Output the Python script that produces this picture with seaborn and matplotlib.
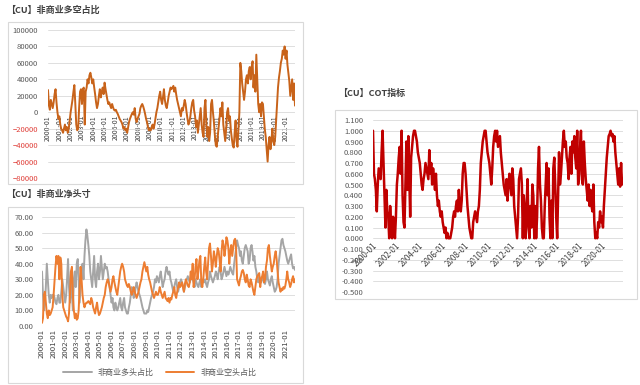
import pandas as pd
import seaborn as sns
import matplotlib.pyplot as plt
import matplotlib.dates as mdates
from matplotlib.patches import Rectangle
from matplotlib.ticker import FuncFormatter

sns.set_theme(style="white")
plt.rcParams["font.family"] = ["Noto Sans CJK SC", "DejaVu Sans"]

# 非商业净多头 (合约数), 月度, 2000-01 ~ 2021-11
net_position = [
    27000, 8000, 3000, 15000, 10000, 5000, 12000, 22000, 28000, 12000, 0, -8000,
    -5000, -15000, -20000, -22000, -25000, -20000, -15000, -22000, -18000, -25000, -20000, -10000,
    0, 8000, 15000, 25000, 33000, 10000, -15000, -22000, -20000, 5000, 25000, 28000,
    10000, 28000, 30000, -15000, 25000, 30000, 40000, 35000, 45000, 48000, 42000, 35000,
    40000, 30000, 22000, 12000, 5000, 10000, 20000, 28000, 18000, 25000, 30000, 22000,
    36000, 28000, 22000, 15000, 10000, 12000, 8000, 5000, 10000, 6000, 3000, 2000,
    3000, 0, -2000, -5000, -8000, -10000, -12000, -15000, -20000, -18000, -22000, -20000,
    -25000, -18000, -12000, -8000, -5000, -2000, 0, -3000, 5000, -8000, -12000, -8000,
    -5000, -2000, 5000, 8000, 10000, 7000, 3000, -2000, -8000, -12000, -18000, -22000,
    -20000, -22000, -18000, -15000, -20000, -15000, -8000, 0, 5000, 12000, 20000, 25000,
    15000, 10000, 18000, 28000, 15000, 8000, 5000, 12000, 20000, 25000, 30000, 28000,
    30000, 32000, 25000, 30000, 22000, 15000, 10000, 5000, 0, -5000, 5000, 2000,
    8000, 15000, 10000, 0, -8000, -15000, -12000, -5000, 5000, 12000, 15000, 2000,
    -5000, -18000, -10000, -25000, -15000, -5000, 5000, -15000, -25000, -30000, 5000, 15000,
    -15000, -30000, -18000, -35000, -25000, 10000, 15000, 0, -12000, -28000, -40000, -42000,
    -30000, -18000, -8000, 5000, -5000, 12000, -15000, -25000, -35000, -20000, 0, 5000,
    -10000, -5000, -22000, -32000, -40000, -43000, -25000, -10000, -35000, -42000, -20000, 0,
    60000, 50000, 35000, 25000, 15000, 25000, 40000, 45000, 35000, 50000, 55000, 40000,
    55000, 62000, 30000, 45000, 25000, 70000, 40000, 10000, 0, 10000, -5000, 12000,
    10000, -5000, -20000, -30000, -45000, -60000, -40000, -30000, -45000, -35000, -20000, -35000,
    -40000, -30000, -10000, 10000, 30000, 42000, 50000, 60000, 65000, 75000, 70000, 80000,
    65000, 75000, 58000, 48000, 38000, 20000, 30000, 40000, 15000, 35000, 8000,
]

# 非商业多头占比 (%)
long_share = [
    35, 20, 10, 15, 25, 40, 30, 20, 15, 20, 18, 20,
    20, 18, 15, 14, 18, 20, 15, 15, 22, 30, 25, 20,
    15, 20, 30, 43, 25, 15, 35, 20, 10, 30, 35, 25,
    40, 43, 30, 15, 25, 35, 40, 30, 45, 55, 62, 58,
    52, 45, 35, 30, 25, 35, 45, 30, 25, 35, 40, 30,
    35, 45, 38, 30, 35, 40, 37, 38, 35, 30, 25, 20,
    15, 18, 12, 10, 15, 12, 10, 12, 15, 18, 12, 10,
    15, 18, 12, 10, 8, 8, 12, 15, 20, 25, 22, 18,
    20, 25, 28, 25, 22, 20, 18, 15, 12, 10, 8, 8,
    8, 10, 9, 12, 15, 18, 20, 22, 25, 30, 28, 32,
    30, 28, 32, 35, 30, 25, 28, 30, 35, 38, 35, 33,
    35, 30, 28, 25, 22, 25, 28, 30, 25, 22, 25, 28,
    30, 28, 25, 22, 25, 28, 30, 32, 30, 28, 30, 32,
    30, 28, 25, 30, 28, 26, 25, 28, 30, 25, 28, 30,
    28, 30, 27, 25, 28, 30, 35, 32, 30, 28, 30, 32,
    35, 33, 30, 35, 38, 35, 30, 32, 35, 38, 35, 32,
    35, 33, 35, 38, 36, 34, 33, 40, 45, 50, 55, 52,
    50, 45, 48, 42, 40, 45, 50, 52, 50, 48, 40, 42,
    50, 52, 48, 42, 45, 38, 35, 30, 28, 32, 30, 28,
    30, 32, 28, 27, 30, 35, 30, 28, 26, 30, 32, 28,
    25, 22, 23, 25, 30, 40, 45, 50, 55, 56, 52, 50,
    48, 45, 42, 40, 42, 44, 46, 40, 37, 38, 36,
]

# 非商业空头占比 (%)
short_share = [
    2, 5, 20, 22, 15, 8, 5, 10, 7, 8, 10, 12,
    20, 30, 38, 45, 40, 45, 30, 44, 40, 20, 12, 10,
    8, 6, 5, 3, 8, 20, 35, 38, 20, 10, 5, 8,
    4, 5, 10, 25, 38, 30, 20, 15, 12, 14, 15, 15,
    16, 15, 14, 18, 16, 12, 10, 8, 12, 15, 10, 7,
    8, 10, 12, 15, 18, 20, 25, 28, 30, 28, 25, 22,
    25, 30, 32, 28, 25, 22, 20, 25, 30, 35, 38, 40,
    38, 35, 30, 28, 26, 25, 27, 25, 22, 20, 22, 25,
    22, 20, 18, 20, 22, 25, 28, 30, 35, 38, 41, 38,
    35, 38, 33, 30, 28, 25, 22, 20, 18, 20, 22, 20,
    20, 22, 25, 22, 20, 18, 20, 22, 18, 17, 16, 18,
    15, 18, 17, 20, 22, 25, 20, 18, 22, 25, 28, 25,
    26, 28, 25, 22, 27, 30, 28, 26, 25, 28, 35, 30,
    40, 25, 30, 38, 43, 30, 35, 42, 45, 28, 25, 30,
    38, 44, 35, 30, 40, 50, 53, 45, 35, 40, 48, 44,
    38, 45, 50, 48, 42, 35, 48, 55, 52, 45, 50, 57,
    55, 50, 40, 48, 52, 45, 50, 55, 56, 50, 30, 28,
    26, 30, 32, 35, 36, 34, 30, 28, 33, 30, 26, 25,
    30, 28, 25, 22, 20, 25, 30, 32, 33, 34, 25, 30,
    32, 35, 28, 30, 38, 42, 50, 52, 45, 40, 35, 38,
    40, 45, 48, 43, 35, 28, 25, 22, 24, 23, 25, 24,
    26, 30, 35, 30, 28, 25, 27, 30, 32, 28, 30,
]

# COT 指标
cot_index = [
    1.0, 0.6, 0.55, 0.45, 0.25, 0.5, 0.65, 0.6, 0.55, 0.8, 1.0, 0.7,
    0.4, 0.1, 0.45, 0.25, 0.2, 0.0, 0.3, 0.1, 0.0, 0.2, 0.15, 0.0,
    0.2, 0.5, 0.6, 0.75, 0.85, 0.6, 1.0, 0.4, 0.15, 0.1, 0.5, 0.9,
    0.45, 0.95, 0.6, 0.2, 0.75, 0.85, 0.95, 1.0, 1.0, 0.95, 0.9, 0.8,
    0.75, 0.7, 0.6, 0.5, 0.45, 0.55, 0.6, 0.7, 0.65, 0.6, 0.55, 0.82,
    0.6, 0.7, 0.5, 0.65, 0.55, 0.45, 0.6, 0.4, 0.3, 0.35, 0.25, 0.2,
    0.25, 0.15, 0.1, 0.05, 0.1, 0.0, 0.05, 0.0, 0.0, 0.0, 0.05, 0.1,
    0.2, 0.25, 0.2, 0.3, 0.35, 0.25, 0.45, 0.3, 0.25, 0.35, 0.6, 0.7,
    0.7, 0.6, 0.45, 0.3, 0.2, 0.1, 0.05, 0.0, 0.0, 0.15, 0.2, 0.25,
    0.2, 0.15, 0.25, 0.3, 0.45, 0.7, 0.8, 0.9, 0.95, 1.0, 1.0, 0.9,
    0.8, 0.75, 0.7, 0.6, 0.5, 0.65, 0.85, 0.95, 1.0, 0.9, 1.0, 0.85,
    0.9, 0.95, 0.8, 0.7, 0.6, 0.5, 0.45, 0.4, 0.55, 0.35, 0.5, 0.6,
    0.5, 0.4, 0.65, 0.55, 0.3, 0.2, 0.1, 0.0, 0.2, 0.55, 0.6, 0.65,
    0.5, 0.0, 0.4, 0.25, 0.0, 0.3, 0.55, 0.1, 0.0, 0.3, 0.1, 0.5,
    0.4, 0.0, 0.3, 0.0, 0.2, 0.65, 0.85, 0.5, 0.35, 0.1, 0.0, 0.0,
    0.3, 0.5, 0.7, 0.4, 0.65, 0.2, 0.0, 0.35, 0.0, 0.65, 0.75, 0.5,
    0.2, 0.0, 0.4, 0.8, 0.5, 0.6, 0.75, 0.9, 1.0, 0.85, 0.9, 0.75,
    0.7, 0.55, 0.75, 0.85, 0.6, 0.9, 0.8, 0.95, 0.75, 0.65, 1.0, 0.5,
    0.6, 0.85, 1.0, 0.55, 0.5, 0.9, 0.7, 0.55, 0.45, 0.35, 0.5, 0.3,
    0.45, 0.3, 0.25, 0.5, 0.15, 0.0, 0.05, 0.0, 0.15, 0.1, 0.25, 0.15,
    0.2, 0.1, 0.3, 0.45, 0.6, 0.75, 0.85, 0.95, 0.97, 1.0, 0.95, 0.97,
    0.9, 0.95, 0.8, 0.7, 0.6, 0.5, 0.65, 0.48, 0.7, 0.5, 0.55,
]

series_names = ["非商业多头占比", "非商业空头占比"]
titles = ["【CU】非商业多空占比", "【CU】非商业净头寸", "【CU】COT指标"]

dates = pd.date_range("2000-01-01", periods=len(net_position), freq="MS")
df_net = pd.DataFrame({"date": dates, "net": net_position})
df_cot = pd.DataFrame({"date": dates, "cot": cot_index})
df_share = pd.concat([
    pd.DataFrame({"date": dates, "value": long_share, "series": series_names[0]}),
    pd.DataFrame({"date": dates, "value": short_share, "series": series_names[1]}),
], ignore_index=True)

W, H = 640, 385
TXT = "#595959"
GRID = "#D9D9D9"


def box(x0, y0, x1, y1):
    return [x0 / W, 1 - y1 / H, (x1 - x0) / W, (y1 - y0) / H]


def style(ax, pad):
    for s in ax.spines.values():
        s.set_visible(False)
    ax.grid(axis="y", color=GRID, lw=0.6)
    ax.grid(axis="x", visible=False)
    ax.set_axisbelow(True)
    ax.tick_params(axis="both", length=0, colors=TXT)
    ax.tick_params(axis="y", labelsize=5.5, pad=pad)
    ax.tick_params(axis="x", labelsize=5, pad=2)
    ax.set_xlabel("")
    ax.set_ylabel("")
    ax.set_xlim(dates[0], dates[-1])


fig = plt.figure(figsize=(6.4, 3.85), dpi=100)

for x0, y0, x1, y1 in [(8, 22, 303, 184), (8, 207, 303, 383), (335, 110, 637, 299)]:
    fig.add_artist(Rectangle((x0 / W, 1 - y1 / H), (x1 - x0) / W, (y1 - y0) / H,
                             transform=fig.transFigure, fill=False,
                             edgecolor=GRID, lw=0.8))

for (tx, ty), t in zip([(6, 10), (6, 194), (338, 93)], titles):
    fig.text(tx / W, 1 - ty / H, t, fontsize=6.5, fontweight="bold",
             color="#404040", va="center", ha="left")

# 面板1: 非商业多空占比
ax1 = fig.add_axes(box(48, 30, 295, 178))
sns.lineplot(data=df_net, x="date", y="net", color="#C8631A", lw=1.4, ax=ax1)
style(ax1, 7)
ax1.set_ylim(-80000, 100000)
ax1.set_yticks(range(-80000, 100001, 20000))
ax1.spines["bottom"].set_position(("data", 0))
ax1.xaxis.set_major_locator(mdates.YearLocator(1))
ax1.xaxis.set_major_formatter(mdates.DateFormatter("%Y-%m"))
plt.setp(ax1.get_xticklabels(), rotation=90, fontsize=5, color="#404040")
for lab, v in zip(ax1.get_yticklabels(), ax1.get_yticks()):
    if v < 0:
        lab.set_color("#E0403A")

# 面板2: 非商业净头寸
ax2 = fig.add_axes(box(42, 217, 295, 326))
sns.lineplot(data=df_share, x="date", y="value", hue="series",
             palette={series_names[0]: "#A5A5A5", series_names[1]: "#ED7D31"},
             lw=1.4, ax=ax2)
style(ax2, 6)
ax2.set_ylim(0, 70)
ax2.set_yticks(range(0, 71, 10))
ax2.yaxis.set_major_formatter(FuncFormatter(lambda v, _: f"{v:.2f}"))
ax2.xaxis.set_major_locator(mdates.YearLocator(1))
ax2.xaxis.set_major_formatter(mdates.DateFormatter("%Y-%m"))
plt.setp(ax2.get_xticklabels(), rotation=90, fontsize=5.6, color="#404040")
ax2.legend(loc="center", bbox_to_anchor=(160 / W, 1 - 372 / H),
           bbox_transform=fig.transFigure, ncol=2, frameon=False,
           fontsize=5.8, labelcolor=TXT, handlelength=3.5, columnspacing=1.5)

# 面板3: COT指标
ax3 = fig.add_axes(box(373, 120, 623, 292))
sns.lineplot(data=df_cot, x="date", y="cot", color="#C00000", lw=1.8, ax=ax3)
style(ax3, 7)
ax3.set_ylim(-0.5, 1.1)
ax3.set_yticks([i / 10 for i in range(-5, 12)])
ax3.yaxis.set_major_formatter(FuncFormatter(lambda v, _: f"{v:.3f}"))
ax3.spines["bottom"].set_position(("data", 0))
ax3.xaxis.set_major_locator(mdates.YearLocator(2))
ax3.xaxis.set_major_formatter(mdates.DateFormatter("%Y-%m"))
plt.setp(ax3.get_xticklabels(), rotation=45, ha="right", va="top",
         rotation_mode="anchor", fontsize=5.8, color="#404040")

fig.savefig("out.png", dpi=100, facecolor="white")
